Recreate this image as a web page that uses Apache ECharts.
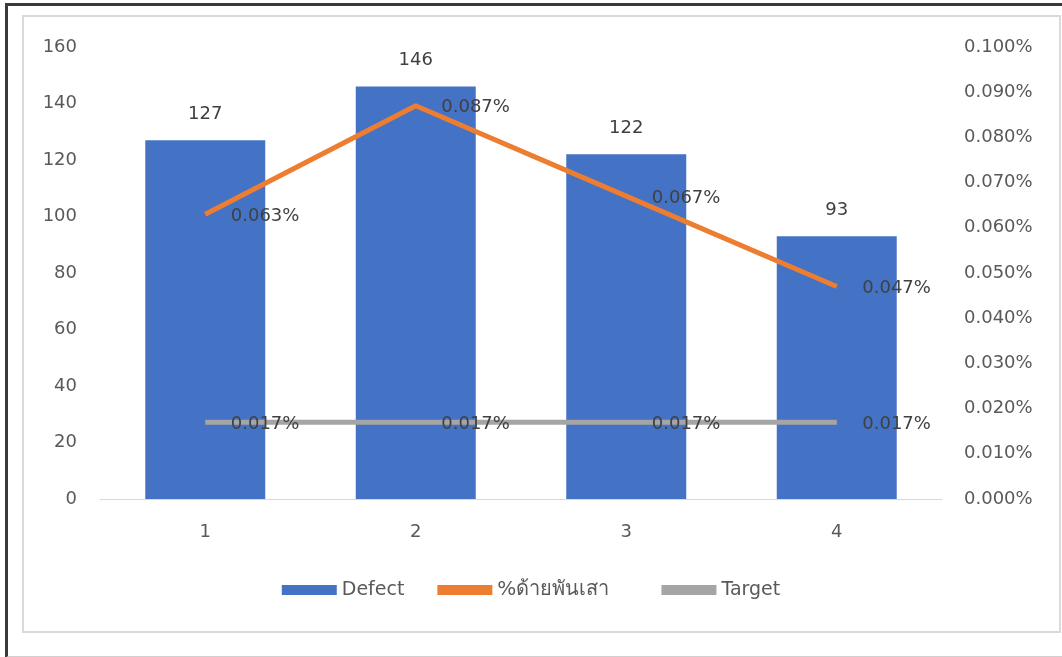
<!DOCTYPE html>
<html>
<head>
<meta charset="utf-8">
<script src="https://cdn.jsdelivr.net/npm/echarts@6/dist/echarts.min.js"></script>
<style>
  html, body { margin: 0; padding: 0; background: #fff; }
  #frame {
    position: absolute; left: 5px; top: 3px; width: 1070px; height: 650px;
    border-top: 3px solid #3a3a3a; border-left: 3px solid #3a3a3a;
    border-bottom: 2px solid #d0d0d0;
  }
  #box {
    position: absolute; left: 22px; top: 15px; width: 1035px; height: 614px;
    border: 2px solid #dadada;
  }
  #chart { position: absolute; left: 0; top: 0; width: 1062px; height: 657px; }
</style>
</head>
<body>
<div id="frame"></div>
<div id="box"></div>
<div id="chart"></div>
<script>
// ข้อมูล
var categories = ['1', '2', '3', '4'];
var defectData = [127, 146, 122, 93];
var percentData = [0.063, 0.087, 0.067, 0.047];
var targetData = [0.017, 0.017, 0.017, 0.017];

var textColor = '#595959';
var labelColor = '#404040';
var fontFam = '"DejaVu Sans", "Noto Sans", sans-serif';

function pctFmt(p) { return p.value.toFixed(3) + '%'; }

var myChart = echarts.init(document.getElementById('chart'));

var option = {
    backgroundColor: 'transparent',
    textStyle: { fontFamily: fontFam },
    grid: { left: 100, right: 120, top: 47, bottom: 158 },
    legend: {
        bottom: 52,
        left: 'center',
        itemWidth: 55,
        itemHeight: 10,
        itemGap: 33,
        textStyle: { color: textColor, fontSize: 19, fontFamily: fontFam },
        formatter: function (name) {
            // ช่องว่างท้ายชื่อไทย ให้ระยะใกล้ของเดิม
            return name === '%ด้ายพันเสา' ? name + '\u00a0\u00a0\u00a0' : name;
        },
        data: [
            { name: 'Defect', icon: 'rect' },
            { name: '%ด้ายพันเสา', icon: 'rect', itemStyle: { color: '#ED7D31' },
              textStyle: { fontSize: 20 } },
            { name: 'Target', icon: 'rect', itemStyle: { color: '#A5A5A5' } }
        ]
    },
    xAxis: {
        type: 'category',
        data: categories,
        axisLine: { lineStyle: { color: '#d9d9d9', width: 1 } },
        axisTick: { show: false },
        axisLabel: { color: textColor, fontSize: 18, margin: 24 }
    },
    yAxis: [
        {
            type: 'value',
            min: 0, max: 160, interval: 20,
            axisLine: { show: false },
            axisTick: { show: false },
            splitLine: { show: false },
            axisLabel: { color: textColor, fontSize: 18, margin: 23 }
        },
        {
            type: 'value',
            min: 0, max: 0.1, interval: 0.01,
            axisLine: { show: false },
            axisTick: { show: false },
            splitLine: { show: false },
            axisLabel: {
                color: textColor, fontSize: 18, margin: 22,
                formatter: function (v) { return v.toFixed(3) + '%'; }
            }
        }
    ],
    series: [
        {
            name: 'Defect',
            type: 'bar',
            data: defectData,
            barWidth: '57%',
            itemStyle: { color: '#4472C4' },
            label: {
                show: true, position: 'top', distance: 17,
                color: labelColor, fontSize: 18
            }
        },
        {
            name: '%ด้ายพันเสา',
            type: 'line',
            yAxisIndex: 1,
            data: percentData,
            symbol: 'circle',
            symbolSize: 1,
            showSymbol: true,
            lineStyle: { color: '#ED7D31', width: 5 },
            itemStyle: { color: '#ED7D31' },
            label: {
                show: true, position: 'right', distance: 25, offset: [0, 2],
                color: labelColor, fontSize: 18,
                formatter: pctFmt
            }
        },
        {
            name: 'Target',
            type: 'line',
            yAxisIndex: 1,
            data: targetData,
            symbol: 'circle',
            symbolSize: 1,
            showSymbol: true,
            lineStyle: { color: '#A5A5A5', width: 5 },
            itemStyle: { color: '#A5A5A5' },
            label: {
                show: true, position: 'right', distance: 25, offset: [0, 2],
                color: labelColor, fontSize: 18,
                formatter: pctFmt
            }
        }
    ]
};

myChart.setOption(option);
</script>
</body>
</html>
